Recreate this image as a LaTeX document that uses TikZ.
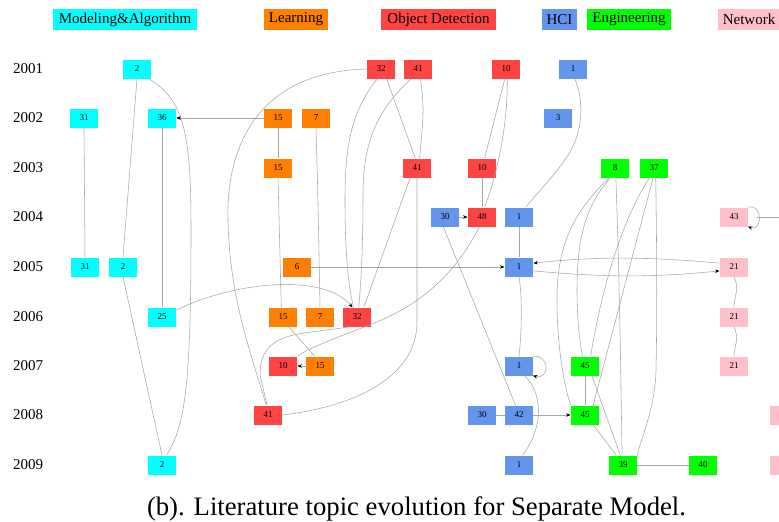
\documentclass[tikz,border=0pt]{standalone}
\usepackage{fontspec}
\setmainfont{Liberation Serif}
\usetikzlibrary{arrows.meta}

\definecolor{cMA}{HTML}{00FFFF}
\definecolor{cLE}{HTML}{FF7F00}
\definecolor{cOD}{HTML}{FF4444}
\definecolor{cHC}{HTML}{6495ED}
\definecolor{cEN}{HTML}{00FF00}
\definecolor{cNW}{HTML}{FFC0CB}
\definecolor{cEdge}{HTML}{A6A6A6}

\tikzset{
  topic/.style={rectangle, minimum width=28.5pt, minimum height=19pt, inner sep=0pt,
                font=\fontsize{9}{9}\selectfont},
  legendbox/.style={rectangle, minimum height=21pt, inner sep=0pt,
                font=\fontsize{15}{15}\selectfont},
  yearlbl/.style={anchor=west, inner sep=0pt, font=\fontsize{15}{15}\selectfont},
  link/.style={draw=cEdge, line width=0.55pt},
  arrowlink/.style={link, -{Stealth[length=4.5pt,width=3.5pt,color=black]}},
}

\begin{document}
\begin{tikzpicture}[x=1pt, y=-1pt]
\useasboundingbox (0,0) rectangle (779,522);
\clip (0,0) rectangle (779,522);
\fill[white] (0,0) rectangle (779,522);

% legend
\node[legendbox, fill=cMA, minimum width=144pt] (lgMA) at (125,19.5) {Modeling\&Algorithm};
\node[legendbox, fill=cLE, minimum width=64pt]  (lgLE) at (296,19.5) {Learning};
\node[legendbox, fill=cOD, minimum width=115pt] (lgOD) at (438.5,19.5) {Object Detection};
\node[legendbox, fill=cHC, minimum width=35pt]  (lgHC) at (559.5,19.5) {HCI};
\node[legendbox, fill=cEN, minimum width=84pt]  (lgEN) at (629,19.5) {Engineering};
\node[legendbox, fill=cNW, minimum width=62pt]  (lgNW) at (749,19.5) {Network};

% years
\node[yearlbl] (y2001) at (13,69)  {2001};
\node[yearlbl] (y2002) at (13,118) {2002};
\node[yearlbl] (y2003) at (13,168) {2003};
\node[yearlbl] (y2004) at (13,217) {2004};
\node[yearlbl] (y2005) at (13,267) {2005};
\node[yearlbl] (y2006) at (13,317) {2006};
\node[yearlbl] (y2007) at (13,366) {2007};
\node[yearlbl] (y2008) at (13,415) {2008};
\node[yearlbl] (y2009) at (13,465) {2009};

% Modeling & Algorithm
\node[topic, fill=cMA] (MA2a)  at (137,69)  {2};
\node[topic, fill=cMA] (MA31a) at (84,118)  {31};
\node[topic, fill=cMA] (MA36)  at (162,118) {36};
\node[topic, fill=cMA] (MA31b) at (85,267)  {31};
\node[topic, fill=cMA] (MA2b)  at (123,267) {2};
\node[topic, fill=cMA] (MA25)  at (162,317) {25};
\node[topic, fill=cMA] (MA2c)  at (162,465) {2};

% Learning
\node[topic, fill=cLE] (LE15a) at (278,118) {15};
\node[topic, fill=cLE] (LE7a)  at (316,118) {7};
\node[topic, fill=cLE] (LE15b) at (278,168) {15};
\node[topic, fill=cLE] (LE6)   at (297,267) {6};
\node[topic, fill=cLE] (LE15c) at (283,317) {15};
\node[topic, fill=cLE] (LE7b)  at (320,317) {7};
\node[topic, fill=cLE] (LE15d) at (320,366) {15};

% Object Detection
\node[topic, fill=cOD] (OD32a) at (381,69)  {32};
\node[topic, fill=cOD] (OD41a) at (418,69)  {41};
\node[topic, fill=cOD] (OD10a) at (506,69)  {10};
\node[topic, fill=cOD] (OD41b) at (417,168) {41};
\node[topic, fill=cOD] (OD10b) at (482,168) {10};
\node[topic, fill=cOD] (OD48)  at (482,217) {48};
\node[topic, fill=cOD] (OD32b) at (357,317) {32};
\node[topic, fill=cOD] (OD10c) at (283,366) {10};
\node[topic, fill=cOD] (OD41c) at (268,415) {41};

% HCI
\node[topic, fill=cHC] (HC1a)  at (573,69)  {1};
\node[topic, fill=cHC] (HC3)   at (558,118) {3};
\node[topic, fill=cHC] (HC30a) at (445,217) {30};
\node[topic, fill=cHC] (HC1b)  at (519,217) {1};
\node[topic, fill=cHC] (HC1c)  at (519,267) {1};
\node[topic, fill=cHC] (HC1d)  at (519,366) {1};
\node[topic, fill=cHC] (HC30b) at (482,415) {30};
\node[topic, fill=cHC] (HC42)  at (519,415) {42};
\node[topic, fill=cHC] (HC1e)  at (519,465) {1};

% Engineering
\node[topic, fill=cEN] (EN8)   at (615,168) {8};
\node[topic, fill=cEN] (EN37)  at (654,168) {37};
\node[topic, fill=cEN] (EN45a) at (585,366) {45};
\node[topic, fill=cEN] (EN45b) at (585,415) {45};
\node[topic, fill=cEN] (EN39)  at (623,465) {39};
\node[topic, fill=cEN] (EN40)  at (703,465) {40};

% Network
\node[topic, fill=cNW] (NW43)  at (734,217) {43};
\node[topic, fill=cNW] (NW21a) at (734,267) {21};
\node[topic, fill=cNW] (NW21b) at (734,317) {21};
\node[topic, fill=cNW] (NW21c) at (734,366) {21};
\node[topic, fill=cNW] (NWxa)  at (784,415) {};
\node[topic, fill=cNW] (NWxb)  at (784,465) {};
\coordinate (NW43out) at (757,217);
\coordinate (NWfar)   at (800,217);

% ---- connectors ----
% Modeling & Algorithm
\draw[link] (MA2a.south) -- (MA2b.north);
\draw[link] (MA2a.-40) .. controls (186,100) and (191,140) .. (191,230)
            .. controls (191,380) and (186,425) .. (MA2c.65);
\draw[link] (MA31a.south) -- (MA31b.north);
\draw[link] (MA36.south) -- (MA25.north);
\draw[link] (MA2b.south) -- (MA2c.north);
\draw[arrowlink] (LE15a.west) -- (MA36.east);
\draw[arrowlink] (MA25.25) .. controls (225,285) and (320,270) .. (OD32b.115);

% Learning
\draw[link] (LE15a.south) -- (LE15b.north);
\draw[link] (LE15b.south) -- (LE15c.100);
\draw[link] (LE7a.south) .. controls (318,200) .. (LE7b.north);
\draw[link] (LE15c.-60) -- (LE15d.118);
\draw[arrowlink] (LE15d.west) -- (OD10c.east);
\draw[arrowlink] (LE6.east) -- (HC1c.west);

% Object Detection
\draw[link] (OD32a.west) .. controls (255,72) and (226,150) .. (228,220)
            .. controls (230,300) and (250,350) .. (OD41c.100);
\draw[link] (OD32a.-110) .. controls (350,112) and (345,150) .. (345,200)
            .. controls (345,265) and (350,292) .. (OD32b.110);
\draw[link] (OD41a.-125) .. controls (375,112) and (363,145) .. (363,195)
            .. controls (363,262) and (360,292) .. (OD32b.80);
\draw[link] (OD32a.-60) -- (OD41b.100);
\draw[link] (OD41a.-75) .. controls (424,110) .. (OD41b.75);
\draw[link] (OD41b.-125) -- (OD32b.55);
\draw[link] (OD41c.east) .. controls (365,405) and (417,372) .. (417,322) -- (OD41b.south);
\draw[link] (OD32b.-125) .. controls (300,335) and (260,330) .. (260,375) -- (OD41c.95);
\draw[link] (OD10a.-97) -- (OD10b.75);
\draw[link] (OD10a.-83) .. controls (508,125) and (497,175) .. (OD48.75);
\draw[link] (OD10b.south) -- (OD48.north);
\draw[link] (OD48.-105) .. controls (455,275) and (420,305) .. (372,324)
            .. controls (330,340) and (305,350) .. (OD10c.north east);
\draw[arrowlink] (HC30a.east) -- (OD48.west);

% HCI
\draw[link] (HC30a.-100) -- (HC42.110);
\draw[link] (HC1a.-80) .. controls (584,100) and (583,130) .. (570,152)
            .. controls (556,175) and (535,195) .. (HC1b.55);
\draw[link] (HC1b.south) -- (HC1c.north);
\draw[arrowlink] (NW21a.165) .. controls (650,257) and (600,256) .. (HC1c.15);
\draw[arrowlink] (HC1c.-15) .. controls (600,277) and (650,278) .. (NW21a.-165);
\draw[link] (HC1c.south) .. controls (523,300) and (521,340) .. (HC1d.north);
\draw[arrowlink] (HC1d.35) .. controls (550,354) and (550,380) .. (HC1d.-35);
\draw[link] (HC1d.-60) .. controls (542,392) and (545,425) .. (HC1e.70);
\draw[link] (HC30b.east) -- (HC42.west);
\draw[arrowlink] (HC42.east) -- (EN45b.west);

% Network
\draw[arrowlink] (NW43.35) .. controls (763,203) and (763,232) .. (NW43.-35);
\draw[link] (NW43out) -- (NWfar);
\draw[link] (NW21a.south) .. controls (740,290) and (734,295) .. (NW21b.north);
\draw[link] (NW21b.south) .. controls (740,340) and (734,345) .. (NW21c.north);

% Engineering
\draw[link] (EN8.-120) .. controls (570,215) and (557,250) .. (557,300)
            .. controls (557,350) and (565,388) .. (EN45b.north west);
\draw[link] (EN8.-113) .. controls (585,205) and (577,240) .. (577,290)
            .. controls (577,322) and (580,342) .. (EN45a.105);
\draw[link] (EN8.-85) .. controls (620,290) and (621,400) .. (EN39.95);
\draw[link] (EN37.-115) .. controls (625,215) and (603,280) .. (EN45a.60);
\draw[link] (EN37.-95) -- (EN45b.50);
\draw[link] (EN37.-80) .. controls (657,250) and (657,330) .. (656,370)
            .. controls (655,410) and (640,440) .. (EN39.north east);
\draw[link] (EN45a.south) -- (EN45b.north);
\draw[link] (EN45a.-55) -- (EN39.105);
\draw[link] (EN45b.-50) -- (EN39.125);
\draw[link] (EN39.east) -- (EN40.west);

% caption
\node[anchor=base, inner sep=0pt, font=\fontsize{26.7}{27}\selectfont] (caption)
  at (416.5,515) {(b). Literature topic evolution for Separate Model.};
\end{tikzpicture}
\end{document}
